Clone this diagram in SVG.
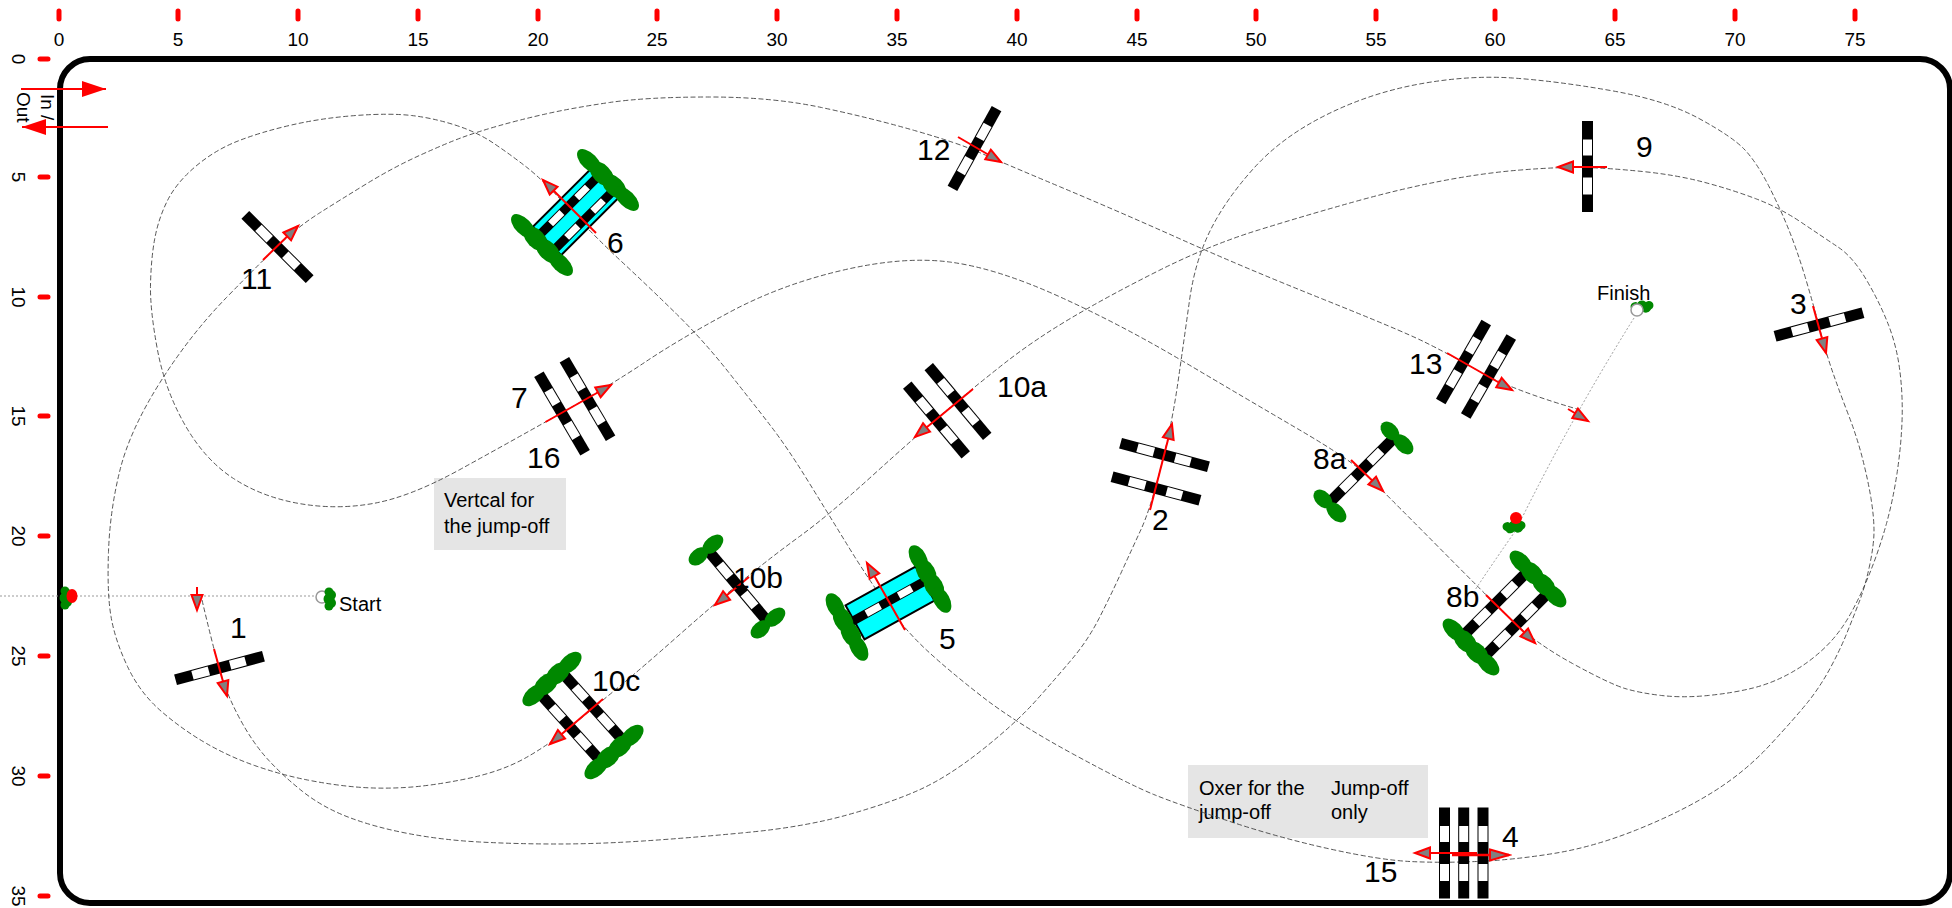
<svg xmlns="http://www.w3.org/2000/svg" width="1952" height="908" viewBox="0 0 1952 908">
<style>
text{font-family:"Liberation Sans",Arial,sans-serif;fill:#000}
.t{font-size:19px;text-anchor:middle}
.l{font-size:30px}
.s{font-size:20px}
.tick{stroke:#f00;stroke-width:5;stroke-linecap:round;fill:none}
.course{fill:none;stroke:#444;stroke-width:.9;stroke-dasharray:5 2.500}
.dot{fill:none;stroke:#999;stroke-width:1;stroke-dasharray:2 2}
.ar{stroke:#f00;stroke-width:2;fill:none;marker-end:url(#ah)}
.ar4{stroke:#f00;stroke-width:2.5;fill:none;marker-end:url(#ah4)}
.big{stroke:#f00;stroke-width:2;fill:none;marker-end:url(#big)}
.g{fill:#080}
.w{fill:#0ff;stroke:#000;stroke-width:2}
.note{fill:#e5e5e5}
</style>
<defs>
<marker id="ah" markerWidth="22" markerHeight="18" refX="18" refY="8" orient="auto" markerUnits="userSpaceOnUse"><path d="M3 2.500L18 8L3 13.500Z" fill="#808080" stroke="#f00" stroke-width="2"/></marker>
<marker id="ah4" markerWidth="24" markerHeight="18" refX="21" refY="8" orient="auto" markerUnits="userSpaceOnUse"><path d="M2 2.500L21 8L2 13.500Z" fill="#808080" stroke="#f00" stroke-width="2"/></marker>
<marker id="big" markerWidth="26" markerHeight="18" refX="24" refY="9" orient="auto" markerUnits="userSpaceOnUse"><path d="M0 1L24 9L0 17Z" fill="#f00"/></marker>
<g id="pole"><rect x="-5.500" y="-45.500" width="11" height="91" fill="#000"/><rect x="-4.500" y="-27" width="9" height="16" fill="#fff"/><rect x="-4.500" y="11" width="9" height="17" fill="#fff"/></g>
<g id="thin"><rect x="-4.500" y="-43" width="9" height="86" fill="#000"/><rect x="-3.500" y="-26" width="7" height="15" fill="#fff"/><rect x="-3.500" y="10" width="7" height="16" fill="#fff"/></g>
<g id="wing"><ellipse cx="-24" cy="0" rx="14" ry="8" class="g"/><ellipse cx="-8" cy="0" rx="14" ry="9" class="g"/><ellipse cx="8" cy="0" rx="14" ry="9" class="g"/><ellipse cx="24" cy="0" rx="14" ry="8" class="g"/></g>
<g id="wings"><ellipse cx="-10" cy="0" rx="11" ry="7.500" class="g"/><ellipse cx="9" cy="0" rx="12" ry="7.500" class="g"/></g>
<g id="gate"><circle cx="0" cy="-7" r="4.500" class="g"/><circle cx="2" cy="-4" r="5" class="g"/><circle cx="0" cy="0" r="5.500" class="g"/><circle cx="2" cy="4" r="5" class="g"/><circle cx="0" cy="7" r="4.500" class="g"/></g>
</defs>
<rect id="bg" width="1952" height="908" fill="#fff"/>
<rect id="arena" x="60" y="59" width="1890" height="844" rx="30" ry="30" fill="none" stroke="#000" stroke-width="6"/>
<g id="ruler-x">
<path class="tick" d="M59 11V19M178 11V19M298 11V19M418 11V19M538 11V19M657 11V19M777 11V19M897 11V19M1017 11V19M1137 11V19M1256 11V19M1376 11V19M1495 11V19M1615 11V19M1735 11V19M1855 11V19"/>
<text class="t" x="59" y="46">0</text><text class="t" x="178" y="46">5</text><text class="t" x="298" y="46">10</text><text class="t" x="418" y="46">15</text><text class="t" x="538" y="46">20</text><text class="t" x="657" y="46">25</text><text class="t" x="777" y="46">30</text><text class="t" x="897" y="46">35</text><text class="t" x="1017" y="46">40</text><text class="t" x="1137" y="46">45</text><text class="t" x="1256" y="46">50</text><text class="t" x="1376" y="46">55</text><text class="t" x="1495" y="46">60</text><text class="t" x="1615" y="46">65</text><text class="t" x="1735" y="46">70</text><text class="t" x="1855" y="46">75</text>
</g>
<g id="ruler-y">
<path class="tick" d="M40 59H48M40 177H48M40 297H48M40 416H48M40 536H48M40 656H48M40 776H48M40 896H48"/>
<text class="t" transform="translate(12,59) rotate(90)">0</text><text class="t" transform="translate(12,177) rotate(90)">5</text><text class="t" transform="translate(12,297) rotate(90)">10</text><text class="t" transform="translate(12,416) rotate(90)">15</text><text class="t" transform="translate(12,536) rotate(90)">20</text><text class="t" transform="translate(12,656) rotate(90)">25</text><text class="t" transform="translate(12,776) rotate(90)">30</text><text class="t" transform="translate(12,896) rotate(90)">35</text>
</g>
<g id="notes">
<rect class="note" x="434" y="478" width="132" height="72"/>
<text class="s" x="444" y="507">Vertcal for</text><text class="s" x="444" y="533">the jump-off</text>
<rect class="note" x="1188" y="765" width="240" height="73"/>
<text class="s" x="1199" y="795">Oxer for the</text><text class="s" x="1199" y="819">jump-off</text><text class="s" x="1331" y="795">Jump-off</text><text class="s" x="1331" y="819">only</text>
</g>
<g id="connectors">
<path class="dot" d="M0 596H316"/>
<path class="dot" d="M1634 318Q1570 420 1516 530Q1495 560 1475 590"/>
<path class="course" d="M202 600Q215 655 221.500 676Q228 697 240.500 720Q253 743 267.500 759Q282 775 302 791Q322 807 348 817Q374 827 408 833.500Q442 840 479.500 842Q517 844 557 844Q597 844 643 841Q689 838 746.500 832.500Q804 827 847 815Q890 803 919 790Q948 777 982 750Q1016 723 1036.500 700Q1057 677 1072.500 658.500Q1088 640 1099 618.500Q1110 597 1121 573Q1132 549 1141 529.500Q1150 510 1161 467Q1172 424 1178 382Q1184 340 1189.500 300.500Q1195 261 1210.500 230Q1226 199 1254 168Q1282 137 1326 115Q1370 93 1419.500 84Q1469 75 1512.500 78Q1556 81 1610.500 90.500Q1665 100 1699 118.500Q1733 137 1745 150Q1757 163 1768.500 185.500Q1780 208 1788.500 229Q1797 250 1805 276.500Q1813 303 1819.500 328Q1826 353 1833 373Q1840 393 1848.500 415Q1857 437 1862.500 458.500Q1868 480 1871 498.500Q1874 517 1874 531Q1874 545 1869.500 566Q1865 587 1859 602.500Q1853 618 1846.500 634Q1840 650 1830 668.500Q1820 687 1807.500 702.500Q1795 718 1770 745Q1745 772 1713 792Q1681 812 1637.500 829.500Q1594 847 1553.500 853.500Q1513 860 1476.500 861.500Q1440 863 1410 861.500Q1380 860 1330 849Q1280 838 1230 821.500Q1180 805 1155 795Q1130 785 1073 754Q1016 723 982 696.500Q948 670 926.500 650Q905 630 886 603.500Q867 577 848 546Q829 515 808 481Q787 447 770 425Q753 403 728 371.500Q703 340 676.500 314Q650 288 621.500 261.500Q593 235 568 207.500Q543 180 527 167.500Q511 155 494 143.500Q477 132 455 125Q433 118 411.500 115.500Q390 113 356 115.500Q322 118 291.500 125Q261 132 238 141Q215 150 195.500 166.500Q176 183 167 201.500Q158 220 154.500 240Q151 260 150.500 285Q150 310 157.500 350Q165 390 185 425Q205 460 233.500 478.500Q262 497 299 503.500Q336 510 373 503.500Q410 497 460 469.500Q510 442 560.500 413.500Q611 385 644.500 362.500Q678 340 729 312.500Q780 285 841.500 270.500Q903 256 949.500 262Q996 268 1058 296Q1120 324 1182.500 361Q1245 398 1298 429Q1351 460 1367 475.500Q1383 491 1434.500 543Q1486 595 1510.500 619Q1535 643 1572.500 663.500Q1610 684 1625 688.500Q1640 693 1661.500 695.500Q1683 698 1708 695.500Q1733 693 1753 688Q1773 683 1791.500 672.500Q1810 662 1825 647.500Q1840 633 1851 613Q1862 593 1871 570Q1880 547 1886.500 523.500Q1893 500 1897 473.500Q1901 447 1902 422Q1903 397 1900 372Q1897 347 1888.500 325Q1880 303 1866.500 280Q1853 257 1838 247Q1823 237 1801.500 222.500Q1780 208 1756.500 199Q1733 190 1705 182.500Q1677 175 1642.500 171.500Q1608 168 1583 167.500Q1558 167 1520.500 170Q1483 173 1441.500 181Q1400 189 1353.500 202Q1307 215 1258.500 230Q1210 245 1160 270Q1110 295 1072 317.500Q1034 340 1003.500 364Q973 388 944 412.500Q915 437 872 476Q829 515 799.500 536.500Q770 558 741.500 581.500Q713 605 678 636Q643 667 623 683.500Q603 700 576 722.500Q549 745 524.500 758.500Q500 772 465.500 779Q431 786 405 787.500Q379 789 356 787Q333 785 307.500 780Q282 775 256 766Q230 757 206.500 743.500Q183 730 161.500 711.500Q140 693 127.500 666.500Q115 640 111 616.500Q107 593 108.500 551.500Q110 510 120 470Q130 430 160 382.500Q190 335 226.500 297.500Q263 260 281 243Q299 226 319.500 213Q340 200 367 183.500Q394 167 420.500 155Q447 143 462 137.500Q477 132 498 126Q519 120 545.500 114Q572 108 609.500 102.500Q647 97 709.500 97Q772 97 821.500 107.500Q871 118 914.500 130.500Q958 143 979.500 152.500Q1001 162 1060.500 187Q1120 212 1182.500 240Q1245 268 1322.500 299Q1400 330 1423.500 341.500Q1447 353 1479.500 371.500Q1512 390 1577 409"/>
<path class="big" d="M21 89H106"/>
<path class="big" d="M108 127H22"/>
</g>
<g id="gate-start"><circle cx="322" cy="597" r="6" fill="#fff" stroke="#999" stroke-width="1.500"/><use href="#gate" x="329" y="599"/></g>
<g id="gate-start-red"><use href="#gate" x="65" y="598"/><ellipse cx="72" cy="596" rx="5.500" ry="7" fill="#f00"/></g>
<g id="gate-finish"><use href="#gate" transform="translate(1642,306) rotate(85)"/><circle cx="1637" cy="310" r="6" fill="#fff" stroke="#999" stroke-width="1.500"/></g>
<g id="gate-finish-red"><use href="#gate" transform="translate(1514,526) rotate(85)"/><circle cx="1516" cy="518" r="6" fill="#f00"/></g>
<g id="j1"><use href="#pole" transform="translate(219.500,668) rotate(75)"/><path class="ar" d="M197 587V610"/><path class="ar" d="M214 649L227 696"/><text class="l" x="230" y="638">1</text></g>
<g id="j2"><use href="#pole" transform="translate(1164.500,455) rotate(105)"/><use href="#pole" transform="translate(1156,488.500) rotate(105)"/><path class="ar" d="M1150 510L1172 424"/><text class="l" x="1152" y="530">2</text></g>
<g id="j3"><use href="#pole" transform="translate(1819,324.500) rotate(75)"/><path class="ar" d="M1813 306L1826 353"/><text class="l" x="1790" y="314">3</text></g>
<g id="j4"><use href="#pole" x="1444.500" y="853"/><use href="#pole" x="1463.700" y="853"/><use href="#pole" x="1483" y="853"/><path class="ar" d="M1477 853H1415"/><path class="ar4" d="M1452 855H1509"/><text class="l" x="1502" y="847">4</text><text class="l" x="1364" y="882">15</text></g>
<g id="j5"><rect class="w" x="-19.500" y="-40" width="39" height="80" transform="translate(890,603) rotate(61)"/><use href="#thin" transform="translate(889,601) rotate(61)"/><use href="#wing" transform="translate(930,579) rotate(61)"/><use href="#wing" transform="translate(847,627) rotate(61)"/><path class="ar" d="M905 630L867 563"/><text class="l" x="939" y="649">5</text></g>
<g id="j6"><rect class="w" x="-20" y="-41" width="40" height="82" transform="translate(576,212) rotate(45)"/><use href="#thin" transform="translate(569,205.500) rotate(45)"/><use href="#thin" transform="translate(585,219) rotate(45)"/><use href="#wing" transform="translate(608,180) rotate(45) scale(1.100,1)"/><use href="#wing" transform="translate(542,245) rotate(45) scale(1.100,1)"/><path class="ar" d="M596 233L543 180"/><text class="l" x="607" y="253">6</text></g>
<g id="j7"><use href="#pole" transform="translate(562,413.500) rotate(-30.500)"/><use href="#pole" transform="translate(587.500,399) rotate(-30.500)"/><path class="ar" d="M545.500 422L611 385"/><text class="l" x="511" y="408">7</text><text class="l" x="527" y="468">16</text></g>
<g id="j8a"><use href="#pole" transform="translate(1362,470) rotate(45)"/><use href="#wings" transform="translate(1397,438) rotate(45)"/><use href="#wings" transform="translate(1330,506) rotate(45)"/><path class="ar" d="M1351 460L1383 491"/><text class="l" x="1313" y="469">8a</text></g>
<g id="j8b"><use href="#pole" transform="translate(1496,603) rotate(45)"/><use href="#pole" transform="translate(1516,625) rotate(45)"/><use href="#wing" transform="translate(1538,579) rotate(45)"/><use href="#wing" transform="translate(1471,647) rotate(45)"/><path class="ar" d="M1486 595L1535 643"/><text class="l" x="1446" y="607">8b</text></g>
<g id="j9"><use href="#pole" x="1587.500" y="166.500"/><path class="ar" d="M1607 167H1558"/><text class="l" x="1636" y="157">9</text></g>
<g id="j10a"><use href="#pole" transform="translate(936.500,420) rotate(-40)"/><use href="#pole" transform="translate(958,401.500) rotate(-40)"/><path class="ar" d="M973 389L915 437"/><text class="l" x="997" y="397">10a</text></g>
<g id="j10b"><use href="#pole" transform="translate(737,585) rotate(-40)"/><use href="#wings" transform="translate(706,550) rotate(-40)"/><use href="#wings" transform="translate(768,623) rotate(-40)"/><path class="ar" d="M749 577L715 605"/><text class="l" x="733" y="588">10b</text></g>
<g id="j10c"><use href="#pole" transform="translate(570,727) rotate(-42)"/><use href="#pole" transform="translate(593,707) rotate(-42)"/><use href="#wing" transform="translate(552,679) rotate(-42)"/><use href="#wing" transform="translate(614,752) rotate(-42)"/><path class="ar" d="M603 699L550 744"/><text class="l" x="592" y="691">10c</text></g>
<g id="j11"><use href="#pole" transform="translate(277.500,247) rotate(-45)"/><path class="ar" d="M263 260L298 226"/><text class="l" x="241" y="289">11</text></g>
<g id="j12"><use href="#pole" transform="translate(974.500,148.500) rotate(29)"/><path class="ar" d="M958 137L1001 162"/><text class="l" x="917" y="160">12</text></g>
<g id="j13"><use href="#pole" transform="translate(1463.500,362) rotate(30)"/><use href="#pole" transform="translate(1488.500,376.500) rotate(30)"/><path class="ar" d="M1447 353L1512 390"/><path class="ar" d="M1568 409L1588 421"/><text class="l" x="1409" y="374">13</text></g>
<g id="labels">
<text class="s" x="339" y="611">Start</text>
<text class="s" x="1597" y="300">Finish</text>
<text class="t" style="text-anchor:start" transform="translate(41,94) rotate(90)">In /</text>
<text class="t" style="text-anchor:start" transform="translate(17,92) rotate(90)">Out</text>
</g>
</svg>
